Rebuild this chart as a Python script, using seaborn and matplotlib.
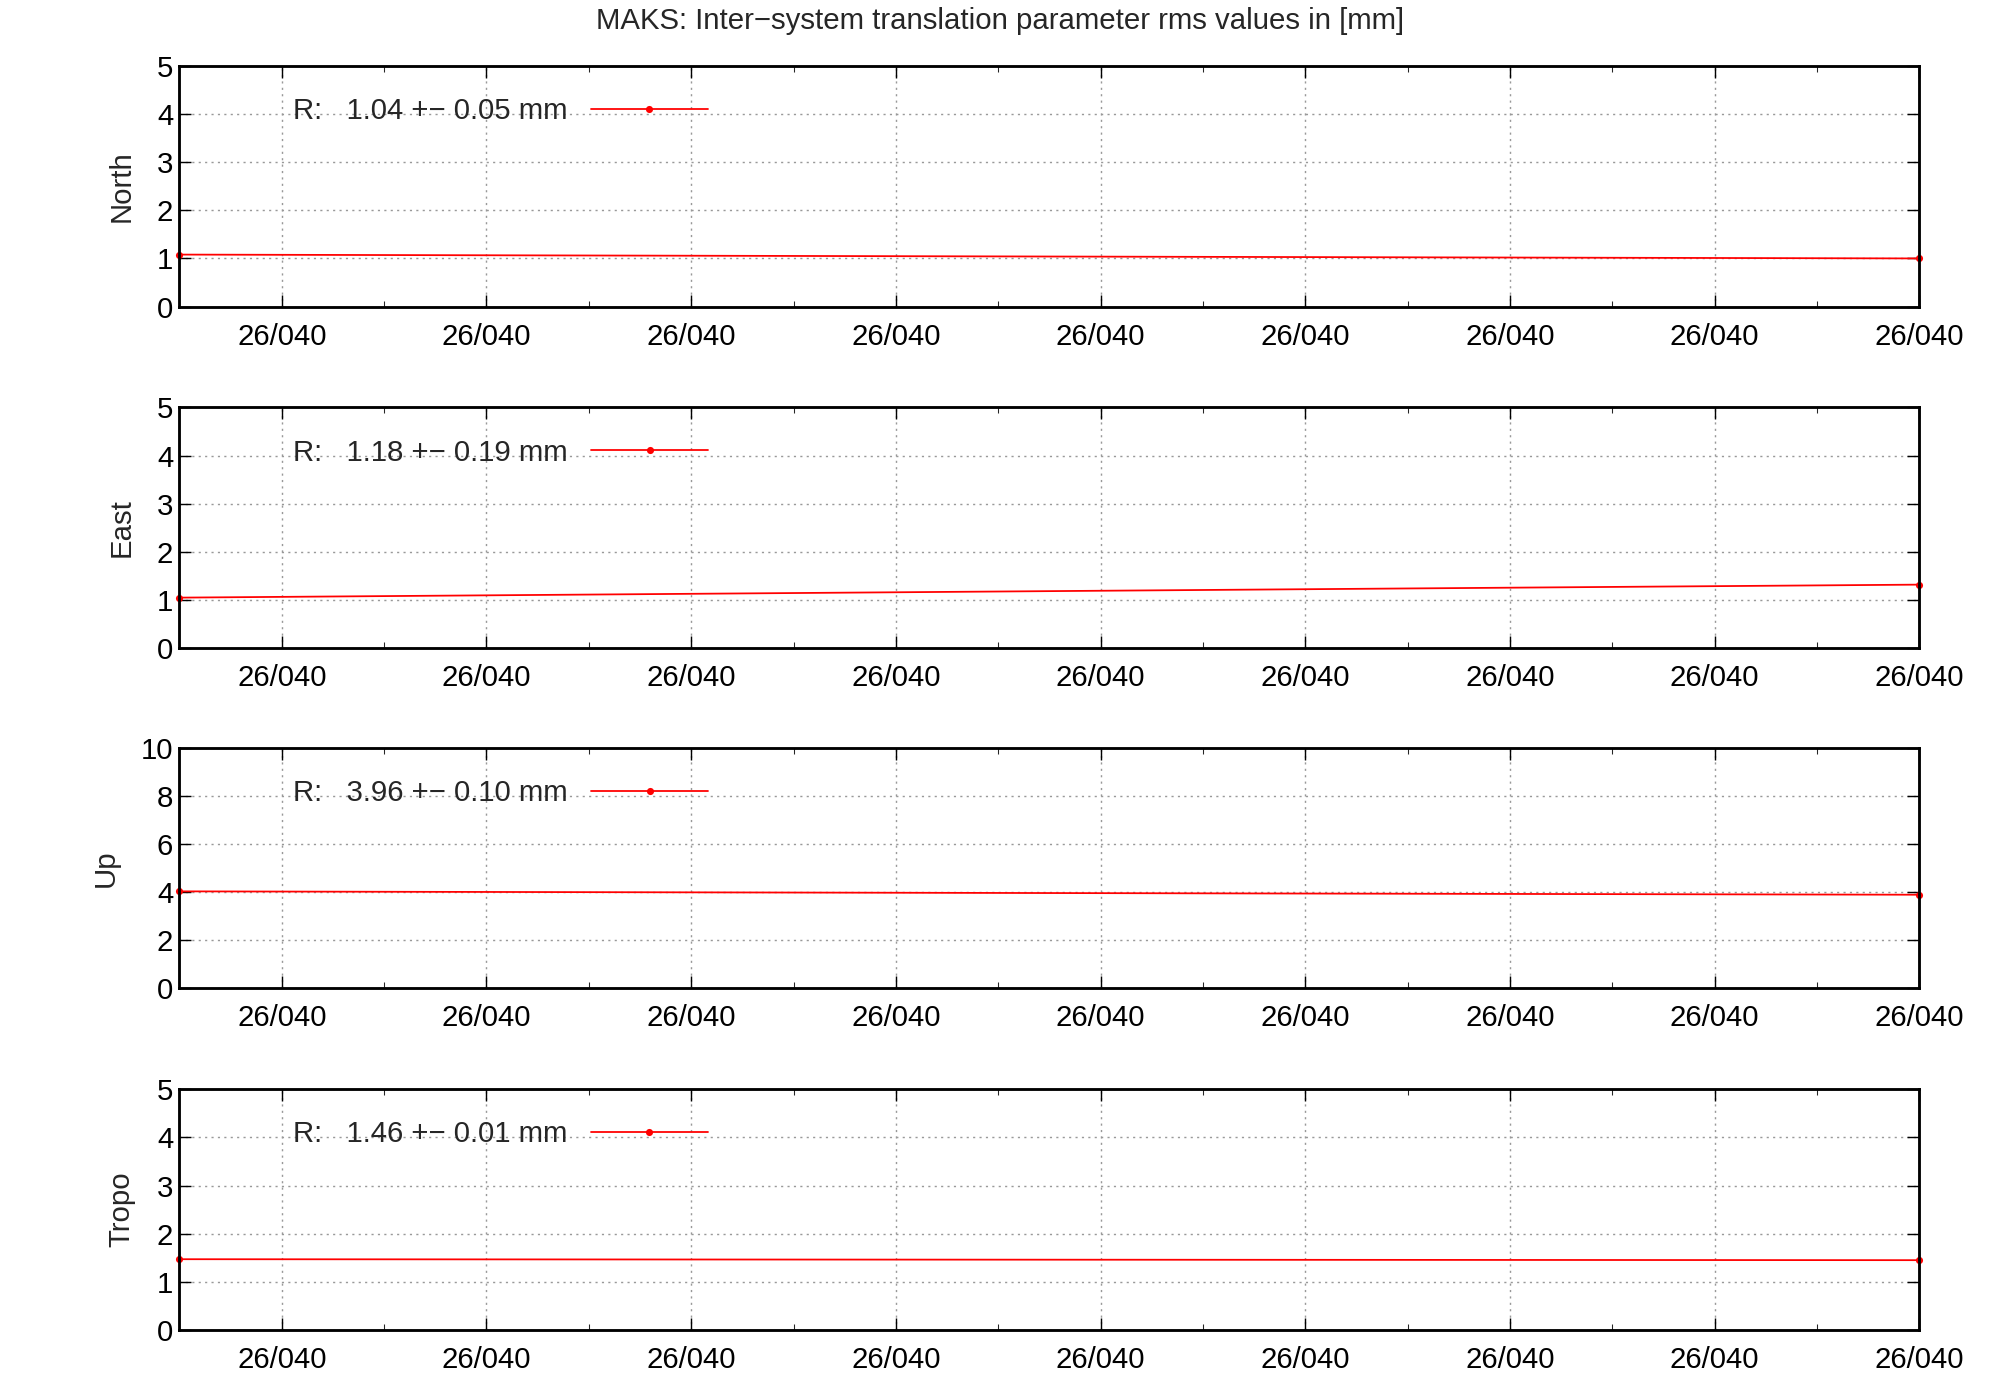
import matplotlib
matplotlib.use("Agg")
import matplotlib.pyplot as plt
import seaborn as sns
import pandas as pd
import numpy as np

sns.set_style("ticks")
plt.rcParams['font.family'] = ['Liberation Sans', 'DejaVu Sans']

# data: start/end values of each component (the two plotted points)
components = ["North", "East", "Up", "Tropo"]
x_pos = [-0.5, 8.0]
north = [1.08, 1.00]
east = [1.05, 1.32]
up = [4.03, 3.89]
tropo = [1.47, 1.45]
series = [north, east, up, tropo]
legend_txt = ["R:   1.04 +\u2212 0.05 mm", "R:   1.18 +\u2212 0.19 mm",
              "R:   3.96 +\u2212 0.10 mm", "R:   1.46 +\u2212 0.01 mm"]
ymax = [5, 5, 10, 5]
ystep = [1, 1, 2, 1]
tick_labels = ["26/040"] * 9

fig = plt.figure(figsize=(15.625, 10.9375), dpi=128)
bottoms = [0.781, 0.537, 0.294, 0.050]
for i in range(4):
    ax = fig.add_axes([0.0897, bottoms[i], 0.870, 0.172])
    df = pd.DataFrame({"x": x_pos, "y": series[i]})
    sns.lineplot(data=df, x="x", y="y", ax=ax, color="red", lw=1.0,
                 marker="o", markersize=4, markeredgewidth=0, label=legend_txt[i],
                 clip_on=False)
    ax.set_xlim(-0.5, 8)
    ax.set_ylim(0, ymax[i])
    ax.set_yticks(np.arange(0, ymax[i] + 0.1, ystep[i]))
    ax.set_xticks(range(9))
    ax.set_xticklabels(tick_labels)
    ax.set_xticks(np.arange(-0.5, 8, 0.5), minor=True)
    ax.tick_params(direction="in", top=True, right=True, labelsize=16.5, length=7,
                   width=0.8, colors="black")
    ax.tick_params(which="minor", direction="in", top=True, length=3.5)
    ax.tick_params(axis="x", pad=9)
    ax.grid(True, which="major", ls=(0, (1.5, 3)), color="#999999", lw=0.8)
    for s in ax.spines.values():
        s.set_linewidth(1.6)
        s.set_color("black")
    ax.set_xlabel("")
    ax.set_ylabel(components[i], fontsize=16.5, labelpad=12)
    ax.legend(loc="upper left", frameon=False, markerfirst=False, fontsize=16.5,
              handlelength=4, bbox_to_anchor=(0.05, 0.98))
fig.suptitle("MAKS: Inter\u2212system translation parameter rms values in [mm]",
             fontsize=16.5, y=0.995)
fig.savefig("out.png", dpi=128)
